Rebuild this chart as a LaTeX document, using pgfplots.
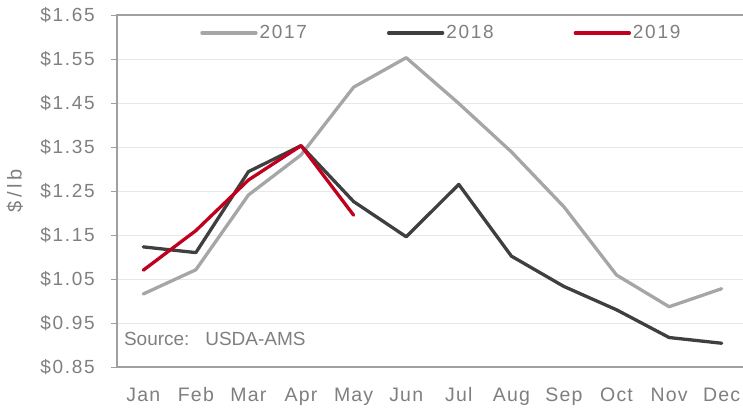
\documentclass[border=0pt]{standalone}
\usepackage{pgfplots}
\pgfplotsset{compat=1.18}
\usepackage{fontspec}
\setmainfont{Liberation Sans}
\newfontfamily\numfont[LetterSpace=9]{Liberation Sans}
\newfontfamily\catfont[LetterSpace=6]{Liberation Sans}
\newfontfamily\labfont[LetterSpace=18]{Liberation Sans}
\definecolor{c2017}{HTML}{A6A6A6}
\definecolor{c2018}{HTML}{3F3F3F}
\definecolor{c2019}{HTML}{C0001E}
\definecolor{txtgray}{HTML}{7F7F7F}
\definecolor{axgray}{HTML}{A0A0A0}
\definecolor{gridgray}{HTML}{E8E8E8}
\begin{document}
\begin{tikzpicture}[x=1pt,y=1pt]
\path[use as bounding box] (-117,-43) rectangle (626,367);
\begin{axis}[
  scale only axis,
  width=631pt, height=352pt,
  xmin=0.5, xmax=12.5,
  ymin=0.85, ymax=1.65,
  font=\fontsize{19}{22}\selectfont\color{txtgray},
  /pgf/number format/assume math mode=true,
  axis line style={draw=axgray, line width=1.3pt},
  xtick={1,...,12},
  xticklabels={Jan,Feb,Mar,Apr,May,Jun,Jul,Aug,Sep,Oct,Nov,Dec},
  xtick style={draw=none},
  extra x ticks={0.5,1.5,...,12.5},
  extra x tick labels={},
  extra x tick style={tick style={draw=axgray, line width=1pt}, major tick length=6pt, tick align=outside},
  xticklabel style={anchor=base, inner sep=0pt, yshift=-28pt, text=txtgray, font=\catfont\fontsize{19.5}{22}\selectfont\color{txtgray}},
  ytick={0.85,0.95,...,1.66},
  yticklabel={\numfont\$\pgfmathprintnumber[fixed,fixed zerofill,precision=2]{\tick}},
  ytick style={draw=axgray, line width=1pt},
  tick align=outside,
  major tick length=6pt,
  yticklabel style={anchor=east, inner sep=0pt, xshift=-16pt, text=txtgray},
  ymajorgrids,
  major grid style={draw=gridgray, line width=1pt},
  ylabel={\$/lb},
  every axis y label/.style={at={(axis description cs:-0.1616,0.5)}, rotate=90, anchor=center, text=txtgray, font=\labfont\fontsize{20}{22}\selectfont\color{txtgray}},
  legend columns=3,
  legend style={draw=none, fill=none, at={(0.514,0.949)}, anchor=center,
    font=\numfont\fontsize{19}{22}\selectfont\color{txtgray}, text=txtgray,
    /tikz/every even column/.append style={column sep=78pt},
    nodes={inner sep=2pt}},
  legend cell align=left,
  legend image code/.code={\draw[#1] (0pt,0pt) -- (54pt,0pt);},
  every axis plot/.append style={line width=3.3pt, line join=round, line cap=round},
]
\addplot[c2017] coordinates {
(1,1.016) (2,1.071) (3,1.241) (4,1.332) (5,1.486) (6,1.553)
(7,1.449) (8,1.339) (9,1.214) (10,1.059) (11,0.987) (12,1.028)};
\addlegendentry{2017}
\addplot[c2018] coordinates {
(1,1.123) (2,1.110) (3,1.294) (4,1.353) (5,1.226) (6,1.146)
(7,1.265) (8,1.102) (9,1.033) (10,0.980) (11,0.917) (12,0.904)};
\addlegendentry{2018}
\addplot[c2019] coordinates {
(1,1.070) (2,1.160) (3,1.275) (4,1.353) (5,1.195)};
\addlegendentry{2019}
\node[anchor=west, inner sep=0pt, text=txtgray, font=\fontsize{19}{22}\selectfont] at (axis cs:0.63,0.914) {Source:\ \ \ USDA-AMS};
\end{axis}
\end{tikzpicture}
\end{document}
